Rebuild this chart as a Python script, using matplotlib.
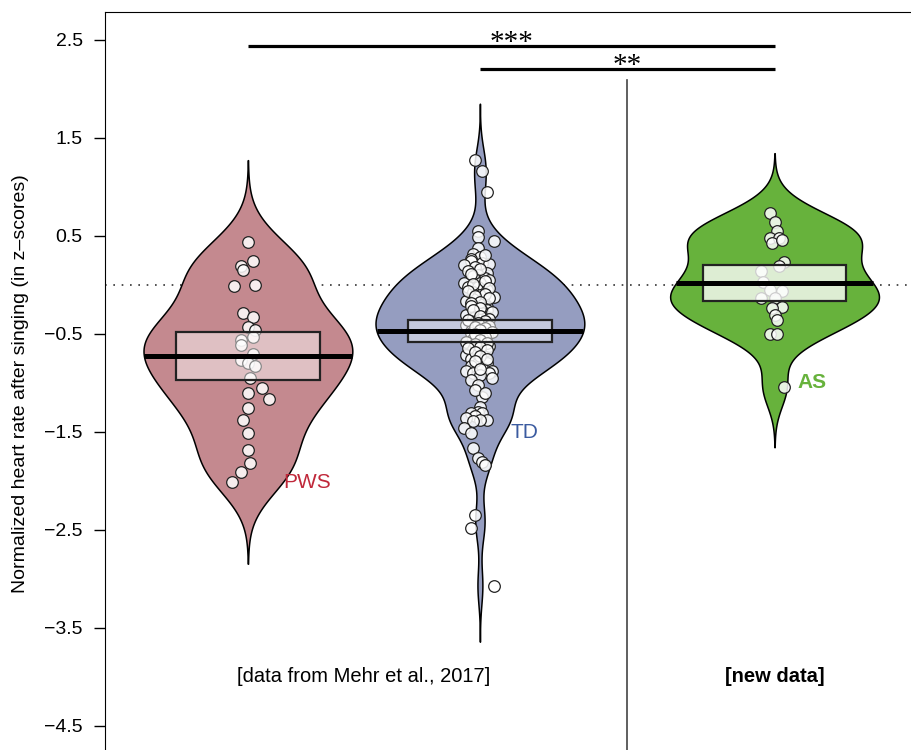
import numpy as np
import matplotlib.pyplot as plt
from matplotlib.patches import Rectangle

plt.rcParams['font.family'] = ['Liberation Sans', 'DejaVu Sans']

# groups and where they sit on the x axis
groups = ['PWS', 'TD', 'AS']
group_pos = [1.0, 2.0, 3.27]

# individual points (value, horizontal jitter)
pws_vals = [0.44, 0.24, 0.19, 0.15, -0.01, 0.00, -0.29, -0.33, -0.43, -0.46,
            -0.53, -0.56, -0.61, -0.70, -0.77, -0.80, -0.83, -0.95, -1.05, -1.16,
            -1.10, -1.25, -1.38, -1.51, -1.68, -1.82, -1.91, -2.01]
pws_jit = [0.00, 0.02, -0.03, -0.02, -0.06, 0.03, -0.02, 0.02, 0.00, 0.03,
           0.02, -0.03, -0.03, 0.02, -0.03, 0.00, 0.03, 0.01, 0.06, 0.09,
           0.00, 0.00, -0.02, 0.00, 0.00, 0.01, -0.03, -0.07]

td_vals = [1.28, 1.16, 0.95, 0.55, 0.49, 0.45, 0.38, 0.32, 0.29, 0.27,
           0.24, 0.22, 0.21, 0.20, 0.18, 0.14, 0.12, 0.10, 0.09, 0.07,
           0.05, 0.02, 0.02, -0.02, -0.02, -0.05, -0.07, -0.10, -0.12, -0.14,
           -0.16, -0.19, -0.22, -0.25, -0.27, -0.29, -0.29, -0.31, -0.33, -0.34,
           -0.38, -0.41, -0.41, -0.45, -0.47, -0.49, -0.51, -0.52, -0.55, -0.58,
           -0.61, -0.62, -0.65, -0.67, -0.70, -0.71, -0.73, -0.76, -0.80, -0.80,
           -0.83, -0.85, -0.88, -0.88, -0.90, -0.90, -0.92, -0.95, -0.97, -1.02,
           -1.14, -1.24, -1.30, -1.31, -1.31, -1.34, -1.36, -1.38, -1.38, -1.39,
           -1.46, -1.51, -1.66, -1.77, -1.81, -1.84, -2.35, -2.48, -3.07,
           # points mostly hidden behind others / the box
           0.31, 0.16, 0.11, 0.04, 0.01, -0.03, -0.06, -0.09, -0.11, -0.13,
           -0.17, -0.18, -0.21, -0.23, -0.26, -0.28, -0.32, -0.35, -0.36, -0.37,
           -0.39, -0.42, -0.43, -0.44, -0.46, -0.48, -0.50, -0.53, -0.56, -0.59,
           -0.60, -0.63, -0.64, -0.66, -0.68, -0.72, -0.75, -0.78, -0.86, -1.07,
           -1.10]
td_jit = [-0.02, 0.01, 0.03, -0.01, -0.01, 0.06, -0.01, -0.03, 0.00, -0.04,
          -0.04, 0.01, 0.04, -0.07, -0.02, -0.05, 0.03, -0.01, -0.03, 0.02,
          0.04, -0.07, 0.00, -0.05, -0.01, 0.03, -0.03, 0.00, 0.06, -0.03,
          -0.06, 0.01, 0.03, 0.03, 0.01, -0.01, 0.01, -0.06, 0.03, -0.03,
          -0.02, -0.06, 0.01, -0.01, -0.04, -0.04, 0.03, -0.01, -0.03, -0.06,
          0.01, 0.04, -0.03, 0.00, -0.03, -0.06, 0.02, -0.04, -0.01, 0.03,
          -0.04, 0.01, -0.06, 0.05, -0.03, 0.04, 0.00, 0.05, -0.04, -0.01,
          0.01, 0.00, -0.01, -0.04, 0.01, -0.02, -0.06, 0.03, 0.00, -0.03,
          -0.07, -0.04, -0.03, -0.01, 0.01, 0.02, -0.02, -0.04, 0.06,
          0.02, 0.00, -0.04, 0.02, -0.03, 0.04, -0.05, 0.02, -0.02, 0.04,
          0.00, -0.04, -0.04, 0.00, -0.03, 0.05, 0.00, 0.04, -0.05, 0.02,
          -0.01, 0.04, -0.02, 0.02, 0.00, 0.05, -0.02, 0.02, 0.00, 0.03,
          -0.02, 0.00, -0.05, 0.03, -0.02, 0.00, 0.03, -0.02, 0.00, -0.02,
          0.02]

as_vals = [0.73, 0.64, 0.55, 0.48, 0.48, 0.43, 0.46, 0.23, 0.19, 0.14,
           0.03, -0.05, -0.06, -0.13, -0.13, -0.22, -0.23, -0.31, -0.36, -0.50,
           -0.50, -1.04]
as_jit = [-0.02, 0.00, 0.01, -0.02, 0.02, -0.01, 0.03, 0.04, 0.02, -0.06,
          -0.05, -0.02, 0.03, -0.06, 0.00, 0.03, -0.01, 0.00, 0.01, -0.02,
          0.01, 0.04]

# mean and 95% interval (the boxes)
means = [-0.72, -0.47, 0.02]
ci_low = [-0.97, -0.58, -0.16]
ci_high = [-0.48, -0.36, 0.20]

bean_colors = ['#C4898F', '#959DC0', '#67B23C']
label_colors = ['#C0283A', '#3B5BA0', '#67B23C']
box_alpha = [0.47, 0.45, 0.78]
bandwidths = [0.278, 0.19, 0.205]

all_vals = [pws_vals, td_vals, as_vals]
all_jit = [pws_jit, td_jit, as_jit]

fig = plt.figure(figsize=(9.12, 7.5), dpi=100)
ax = fig.add_axes([105/912, -30/750, 845/912, 768/750])
ax.set_xlim(0.384, 0.384 + 845/232)
ax.set_ylim(2.5 - 740/98, 2.5 + 28/98)

ax.axhline(0, color='#333333', lw=1.2, ls=(0, (1, 4)), zorder=1)

for i in range(3):
    v = np.array(all_vals[i])
    x0 = group_pos[i]
    bw = bandwidths[i]
    grid = np.linspace(v.min() - 3*bw, v.max() + 3*bw, 600)
    dens = np.exp(-0.5*((grid[:, None] - v[None, :])/bw)**2).sum(axis=1)
    half = dens / dens.max() * 0.45
    ax.fill_betweenx(grid, x0 - half, x0 + half, facecolor=bean_colors[i],
                     edgecolor='black', lw=1.1, zorder=2)
    ax.scatter(x0 + np.array(all_jit[i]), v, s=70, facecolor=(1, 1, 1, 0.85),
               edgecolor='#222222', linewidth=0.9, zorder=3)
    ax.add_patch(Rectangle((x0 - 0.31, ci_low[i]), 0.62, ci_high[i] - ci_low[i],
                           facecolor=(1, 1, 1, box_alpha[i]), edgecolor='#222222',
                           lw=1.6, zorder=4))
    w = np.interp(means[i], grid, half)
    ax.plot([x0 - w, x0 + w], [means[i], means[i]], color='black', lw=3.6,
            solid_capstyle='butt', zorder=5)

# group names
ax.text(1.151, -2.02, 'PWS', color=label_colors[0], fontsize=15, va='center')
ax.text(2.134, -1.51, 'TD', color=label_colors[1], fontsize=15, va='center')
ax.text(3.367, -1.0, 'AS', color=label_colors[2], fontsize=15, va='center',
        fontweight='bold')

# divider between old and new data
ax.plot([2.635, 2.635], [2.09, -5.2], color='#444444', lw=1.2, zorder=1)
ax.text(1.5, -4.0, '[data from Mehr et al., 2017]', ha='center', va='center',
        fontsize=14.5)
ax.text(3.27, -4.0, '[new data]', ha='center', va='center', fontsize=14.5,
        fontweight='bold')

# significance bars
ax.plot([1, 3.27], [2.44, 2.44], color='black', lw=2.3, solid_capstyle='butt')
ax.plot([2, 3.27], [2.20, 2.20], color='black', lw=2.3, solid_capstyle='butt')
ax.text((1 + 3.27)/2, 2.40, '***', ha='center', va='baseline', fontsize=21,
        family='Liberation Serif')
ax.text((2 + 3.27)/2, 2.16, '**', ha='center', va='baseline', fontsize=21,
        family='Liberation Serif')

yt = [2.5, 1.5, 0.5, -0.5, -1.5, -2.5, -3.5, -4.5]
ax.set_yticks(yt)
ax.set_yticklabels([('%.1f' % t).replace('-', '\u2212') for t in yt])
ax.tick_params(axis='y', length=8, width=1, labelsize=14, pad=8)
ax.set_xticks([])
ax.spines['right'].set_visible(False)
ax.spines['bottom'].set_visible(False)

fig.text(0.022, 0.488, 'Normalized heart rate after singing (in z\u2013scores)',
         rotation=90, ha='center', va='center', fontsize=14)

fig.savefig('out.png', dpi=100)
